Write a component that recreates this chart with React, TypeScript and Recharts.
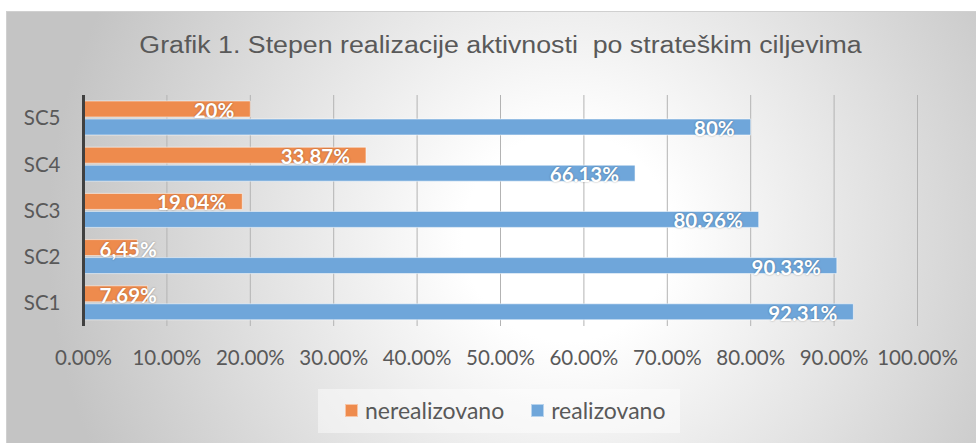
import React from 'react';
import { BarChart, Bar, XAxis, YAxis, CartesianGrid, LabelList } from 'recharts';

const titleText = 'Grafik 1. Stepen realizacije aktivnosti  po strateškim ciljevima';
const categories = ['SC5', 'SC4', 'SC3', 'SC2', 'SC1'];
const nerealizovanoValues = [20, 33.87, 19.04, 6.45, 7.69];
const realizovanoValues = [80, 66.13, 80.96, 90.33, 92.31];
const nerealizovanoLabels = ['20%', '33.87%', '19.04%', '6,45%', '7.69%'];
const realizovanoLabels = ['80%', '66.13%', '80.96%', '90.33%', '92.31%'];
const xTicks = [0, 10, 20, 30, 40, 50, 60, 70, 80, 90, 100];
const seriesNames = ['nerealizovano', 'realizovano'];
const seriesColors = ['#EE8B4D', '#6FA6DA'];

const data = categories.map((name, i) => ({
  name,
  ner: nerealizovanoValues[i],
  real: realizovanoValues[i],
  nerLabel: nerealizovanoLabels[i],
  realLabel: realizovanoLabels[i],
}));

const FONT = 'Lato, "Open Sans", sans-serif';

const renderLabel = (props: any) => {
  const { x, y, width, height, value } = props;
  const estW = String(value).length * 11.3;
  const pad = 16;
  let tx: number;
  let anchor: 'start' | 'end';
  if (width - 2 * pad < estW) {
    tx = x + pad;
    anchor = 'start';
  } else {
    tx = x + width - pad;
    anchor = 'end';
  }
  return (
    <text
      x={tx}
      y={y + height / 2 + 1}
      textAnchor={anchor}
      dominantBaseline="central"
      fill="#ffffff"
      fontFamily={FONT}
      fontWeight="bold"
      fontSize={20.5}
      style={{ textShadow: '0 0 2px rgba(0,0,0,0.35)' }}
    >
      {value}
    </text>
  );
};

export default function App() {
  return (
    <div style={{ position: 'absolute', left: 0, top: 0, width: 976, height: 443, overflow: 'hidden', background: '#fff' }}>
      <div
        style={{
          position: 'absolute',
          left: 6,
          top: 11,
          width: 990,
          height: 450,
          border: '1px solid #d0d0d0',
          boxSizing: 'border-box',
          background: 'radial-gradient(circle 520px at 560px 225px, #ffffff 0%, #ffffff 20%, #c4c4c4 100%)',
        }}
      />
      <div
        style={{
          position: 'absolute',
          left: 0,
          top: 32,
          width: 1001,
          textAlign: 'center',
          whiteSpace: 'pre',
          fontFamily: '"Liberation Sans", Arial, sans-serif',
          fontSize: 23.5,
          color: '#595959',
          transform: 'scaleX(1.138)',
          transformOrigin: '500.5px 0',
        }}
      >
        {titleText}
      </div>
      <div style={{ position: 'absolute', left: 0, top: 0 }}>
        <BarChart
          width={976}
          height={443}
          data={data}
          layout="vertical"
          margin={{ top: 95, right: 58.5, left: 23.5, bottom: 0 }}
          barSize={16}
          barGap={2}
        >
          <CartesianGrid horizontal={false} vertical={true} stroke="#b3b3b3" strokeWidth={1} />
          <XAxis
            type="number"
            domain={[0, 100]}
            ticks={xTicks}
            interval={0}
            tickFormatter={(v: number) => v.toFixed(2) + '%'}
            axisLine={false}
            tickLine={false}
            tickSize={0}
            tickMargin={24}
            height={117}
            tick={{ fill: '#595959', fontSize: 20.5, fontFamily: FONT }}
          />
          <YAxis
            type="category"
            dataKey="name"
            width={60}
            axisLine={{ stroke: '#404040', strokeWidth: 3 }}
            tickLine={false}
            tickSize={0}
            tickMargin={23}
            tick={{ fill: '#595959', fontSize: 20.5, fontFamily: FONT }}
          />
          <Bar dataKey="ner" name={seriesNames[0]} fill={seriesColors[0]} stroke="rgba(255,255,255,0.55)" strokeWidth={1} isAnimationActive={false}>
            <LabelList dataKey="nerLabel" content={renderLabel} />
          </Bar>
          <Bar dataKey="real" name={seriesNames[1]} fill={seriesColors[1]} stroke="rgba(255,255,255,0.55)" strokeWidth={1} isAnimationActive={false}>
            <LabelList dataKey="realLabel" content={renderLabel} />
          </Bar>
        </BarChart>
      </div>
      <div
        style={{
          position: 'absolute',
          left: 318,
          top: 389,
          width: 362,
          height: 44,
          background: 'rgba(255,255,255,0.45)',
        }}
      />
      <div
        style={{
          position: 'absolute',
          left: 345,
          top: 396,
          display: 'flex',
          alignItems: 'center',
          fontFamily: FONT,
          fontSize: 23,
          color: '#595959',
          whiteSpace: 'nowrap',
        }}
      >
        {seriesNames.map((n, i) => (
          <div key={n} style={{ display: 'flex', alignItems: 'center', marginRight: i === 0 ? 27 : 0 }}>
            <div
              style={{
                width: 13,
                height: 13,
                background: seriesColors[i],
                border: '1px solid rgba(255,255,255,0.5)',
                boxSizing: 'border-box',
                marginRight: 7,
              }}
            />
            <span>{n}</span>
          </div>
        ))}
      </div>
    </div>
  );
}
